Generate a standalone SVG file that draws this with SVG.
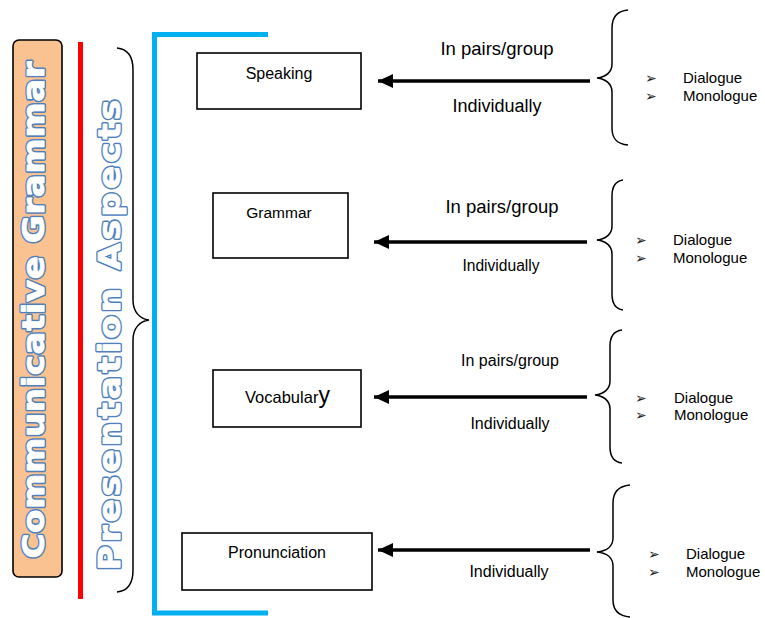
<svg xmlns="http://www.w3.org/2000/svg" width="765" height="618" viewBox="0 0 765 618">
<defs>
<marker id="ah" markerUnits="userSpaceOnUse" markerWidth="16" markerHeight="14" refX="15" refY="7" orient="auto">
<path d="M0,0 L15,7 L0,14 Z" fill="#000"/>
</marker>
<style>
.box{fill:#fff;stroke:#000;stroke-width:1.6}
.t{font-family:"Liberation Sans",Arial,sans-serif;fill:#000}
.big{font-family:"DejaVu Sans","Liberation Sans",sans-serif;font-weight:bold;font-size:31px;stroke-linejoin:round}
.outl{fill:#4F81BD;stroke:#4F81BD;stroke-width:3.6}
.inn{fill:#fff;stroke:#fff;stroke-width:0.8}
.br{fill:none;stroke:#000;stroke-width:1.5}
.arr{stroke:#000;stroke-width:3.5;fill:none}
.bul{font-family:"DejaVu Sans",sans-serif;font-size:14px;fill:#222}
</style>
</defs>

<g id="communicative-grammar">
<rect x="13" y="40" width="49" height="537" rx="6" fill="#FAC191" stroke="#000" stroke-width="1.6"/>
<text class="big outl" transform="translate(44,310) rotate(-90) scale(1.1,1)" text-anchor="middle" textLength="452" lengthAdjust="spacing">Communicative Grammar</text>
<text class="big inn" transform="translate(44,310) rotate(-90) scale(1.1,1)" text-anchor="middle" textLength="452" lengthAdjust="spacing">Communicative Grammar</text>
</g>

<g id="red-line">
<line x1="80.5" y1="42" x2="80.5" y2="599" stroke="#FF0000" stroke-width="5"/>
</g>

<g id="presentation-aspects">
<text class="big outl" transform="translate(120,335) rotate(-90) scale(1.1,1)" text-anchor="middle" textLength="428" lengthAdjust="spacing">Presentation Aspects</text>
<text class="big inn" transform="translate(120,335) rotate(-90) scale(1.1,1)" text-anchor="middle" textLength="428" lengthAdjust="spacing">Presentation Aspects</text>
<path class="br" d="M117,48 C128,49 133,56 133,70 L133,300 C133,312 140,319 149,320 C140,321 133,328 133,340 L133,570 C133,584 128,591 117,592"/>
</g>

<g id="blue-bracket">
<path d="M268,34.5 L154.5,34.5 L154.5,613 L268,613" fill="none" stroke="#00B0F0" stroke-width="5"/>
</g>

<g id="speaking">
<rect class="box" x="197" y="53" width="164" height="56"/>
<text class="t" x="279" y="79" font-size="16" text-anchor="middle">Speaking</text>
</g>
<g id="grammar">
<rect class="box" x="213" y="193" width="135" height="65"/>
<text class="t" x="279" y="218" font-size="15.5" text-anchor="middle">Grammar</text>
</g>
<g id="vocabulary">
<rect class="box" x="213" y="370" width="148" height="57"/>
<text class="t" x="245" y="403" font-size="16.5">Vocabular<tspan font-size="23">y</tspan></text>
</g>
<g id="pronunciation">
<rect class="box" x="182" y="533" width="190" height="57"/>
<text class="t" x="277" y="558" font-size="16" text-anchor="middle">Pronunciation</text>
</g>

<g id="connectors">
<line class="arr" x1="590" y1="81" x2="378" y2="81" marker-end="url(#ah)"/>
<line class="arr" x1="587" y1="242" x2="374" y2="242" marker-end="url(#ah)"/>
<line class="arr" x1="587" y1="397" x2="374" y2="397" marker-end="url(#ah)"/>
<line class="arr" x1="590" y1="550" x2="378" y2="550" marker-end="url(#ah)"/>
</g>

<g id="labels">
<text class="t" x="497" y="55" font-size="18.5" text-anchor="middle">In pairs/group</text>
<text class="t" x="497" y="112" font-size="18" text-anchor="middle">Individually</text>
<text class="t" x="502" y="213" font-size="18.5" text-anchor="middle">In pairs/group</text>
<text class="t" x="501" y="271" font-size="15.6" text-anchor="middle">Individually</text>
<text class="t" x="510" y="366" font-size="16" text-anchor="middle">In pairs/group</text>
<text class="t" x="510" y="429" font-size="16" text-anchor="middle">Individually</text>
<text class="t" x="509" y="577" font-size="16" text-anchor="middle">Individually</text>
</g>

<g id="options-1">
<path class="br" d="M628,10 C617,11 612,17 612,28 L612,64 C612,72 606,77 597,78 C606,79 612,84 612,92 L612,128 C612,139 617,144 628,145"/>
<text class="bul" x="645" y="83">➢</text>
<text class="bul" x="645" y="101">➢</text>
<text class="t" x="683" y="83" font-size="15">Dialogue</text>
<text class="t" x="683" y="101" font-size="15">Monologue</text>
</g>
<g id="options-2">
<path class="br" d="M623,180 C616,181 612,186 612,196 L612,226 C612,234 606,239 597,240 C606,241 612,246 612,254 L612,294 C612,304 616,309 623,310"/>
<text class="bul" x="635" y="245">➢</text>
<text class="bul" x="635" y="263">➢</text>
<text class="t" x="673" y="245" font-size="15">Dialogue</text>
<text class="t" x="673" y="263" font-size="15">Monologue</text>
</g>
<g id="options-3">
<path class="br" d="M622,330 C614,331 610,336 610,346 L610,381 C610,389 604,394 595,395 C604,396 610,401 610,409 L610,447 C610,457 614,462 622,463"/>
<text class="bul" x="635" y="403">➢</text>
<text class="bul" x="635" y="420">➢</text>
<text class="t" x="674" y="403" font-size="15">Dialogue</text>
<text class="t" x="674" y="420" font-size="15">Monologue</text>
</g>
<g id="options-4">
<path class="br" d="M630,485 C619,486 613,492 613,503 L613,538 C613,546 607,551 597,552 C607,553 613,558 613,566 L613,600 C613,611 619,616 630,617"/>
<text class="bul" x="648" y="559">➢</text>
<text class="bul" x="648" y="577">➢</text>
<text class="t" x="686" y="559" font-size="15">Dialogue</text>
<text class="t" x="686" y="577" font-size="15">Monologue</text>
</g>
</svg>
